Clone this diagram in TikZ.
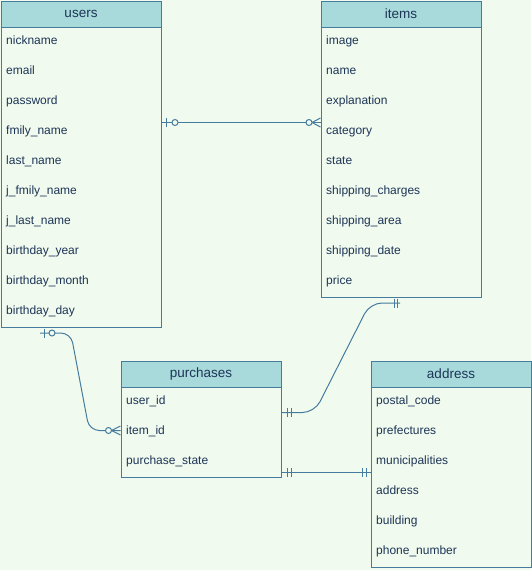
\documentclass[tikz,border=0pt]{standalone}
\usepackage{fontspec}
\setmainfont{Liberation Sans}
\usetikzlibrary{calc}
\definecolor{bg}{HTML}{F1FAEE}
\definecolor{hd}{HTML}{A8DADC}
\definecolor{st}{HTML}{457B9D}
\definecolor{tx}{HTML}{1D3557}
\tikzset{
 tbl/.style={draw=st, fill=bg, line width=1pt, inner sep=0pt, minimum width=160pt, anchor=north west},
 hdr/.style={draw=st, fill=hd, line width=1pt, inner sep=0pt, minimum width=160pt, minimum height=26pt, anchor=north west, text=tx, font=\fontsize{13.5}{15}\selectfont},
 fld/.style={anchor=base west, inner sep=0pt, text=tx, font=\fontsize{12}{14}\selectfont},
 rel/.style={draw=st, line width=1pt},
 mk/.style={draw=st, line width=1pt, fill=bg},
}
\begin{document}
\begin{tikzpicture}[x=1pt,y=-1pt]
\fill[bg] (0,0) rectangle (531,570);
\useasboundingbox (0,0) rectangle (531,570);

% users
\node[tbl, minimum height=326pt] (users) at (0.5,0.5) {};
\node[hdr] (usersh) at (0.5,0.5) {users};
\foreach \t [count=\i] in {nickname,email,password,fmily\_name,last\_name,j\_fmily\_name,j\_last\_name,birthday\_year,birthday\_month,birthday\_day}
  \node[fld] (users-\i) at (6,14.3+30*\i) {\t};

% items
\node[tbl, minimum height=296pt] (items) at (320.5,0.5) {};
\node[hdr] (itemsh) at (320.5,0.5) {items};
\foreach \t [count=\i] in {image,name,explanation,category,state,shipping\_charges,shipping\_area,shipping\_date,price}
  \node[fld] (items-\i) at (326,14.3+30*\i) {\t};

% purchases
\node[tbl, minimum height=116pt] (purchases) at (120.5,360.5) {};
\node[hdr] (purchasesh) at (120.5,360.5) {purchases};
\foreach \t [count=\i] in {user\_id,item\_id,purchase\_state}
  \node[fld] (purchases-\i) at (126,374.3+30*\i) {\t};

% address
\node[tbl, minimum height=206pt] (address) at (370.5,360.5) {};
\node[hdr] (addressh) at (370.5,360.5) {address};
\foreach \t [count=\i] in {postal\_code,prefectures,municipalities,address,building,phone\_number}
  \node[fld] (address-\i) at (376,374.3+30*\i) {\t};

% edge 1: users -- items (zero-to-one / zero-to-many)
\coordinate (e1a) at ($(users.north east)+(0,122)$);
\coordinate (e1b) at ($(items.north west)+(0,122)$);
\draw[rel] (e1a) -- (e1b);
\draw[rel] ($(e1a)+(4.5,-4.5)$) -- ($(e1a)+(4.5,4.5)$);
\draw[mk] ($(e1a)+(13.5,0)$) circle (3pt);
\draw[rel] ($(e1b)+(0,-4.5)$) -- ($(e1b)+(-8.5,0)$) -- ($(e1b)+(0,4.5)$);
\draw[mk] ($(e1b)+(-11.5,0)$) circle (3pt);

% edge 2: users -- purchases
\coordinate (e2a) at ($(users.south west)+(39.5,5.5)$);
\coordinate (e2b) at ($(purchases.north west)+(0,70)$);
\draw[rel, rounded corners=10pt] (e2a) -- ($(e2a)+(30.8,0)$) -- ($(e2b)+(-31.2,0)$) -- (e2b);
\draw[rel] ($(e2a)+(4,-4.5)$) -- ($(e2a)+(4,4.5)$);
\draw[mk] ($(e2a)+(12,0)$) circle (3pt);
\draw[rel] ($(e2b)+(0,-4.5)$) -- ($(e2b)+(-9,0)$) -- ($(e2b)+(0,4.5)$);
\draw[mk] ($(e2b)+(-12,0)$) circle (3pt);

% edge 3: purchases -- items (one-to-one)
\coordinate (e3a) at ($(purchases.north east)+(0,52)$);
\coordinate (e3b) at ($(items.south west)+(79.5,5.5)$);
\draw[rel, rounded corners=12pt] (e3a) -- ($(e3a)+(33,0)$) -- ($(e3b)+(-30,0)$) -- (e3b);
\draw[rel] ($(e3a)+(6,-4.5)$) -- ($(e3a)+(6,4.5)$);
\draw[rel] ($(e3a)+(9.5,-4.5)$) -- ($(e3a)+(9.5,4.5)$);
\draw[rel] ($(e3b)+(-5.7,-4.5)$) -- ($(e3b)+(-5.7,4.5)$);
\draw[rel] ($(e3b)+(-2.2,-4.5)$) -- ($(e3b)+(-2.2,4.5)$);

% edge 4: purchases -- address (one-to-one)
\coordinate (e4a) at ($(purchases.north east)+(0,112)$);
\coordinate (e4b) at ($(address.north west)+(0,112)$);
\draw[rel] (e4a) -- (e4b);
\draw[rel] ($(e4a)+(6,-4.5)$) -- ($(e4a)+(6,4.5)$);
\draw[rel] ($(e4a)+(9.5,-4.5)$) -- ($(e4a)+(9.5,4.5)$);
\draw[rel] ($(e4b)+(-8,-4.5)$) -- ($(e4b)+(-8,4.5)$);
\draw[rel] ($(e4b)+(-4.5,-4.5)$) -- ($(e4b)+(-4.5,4.5)$);
\end{tikzpicture}
\end{document}
